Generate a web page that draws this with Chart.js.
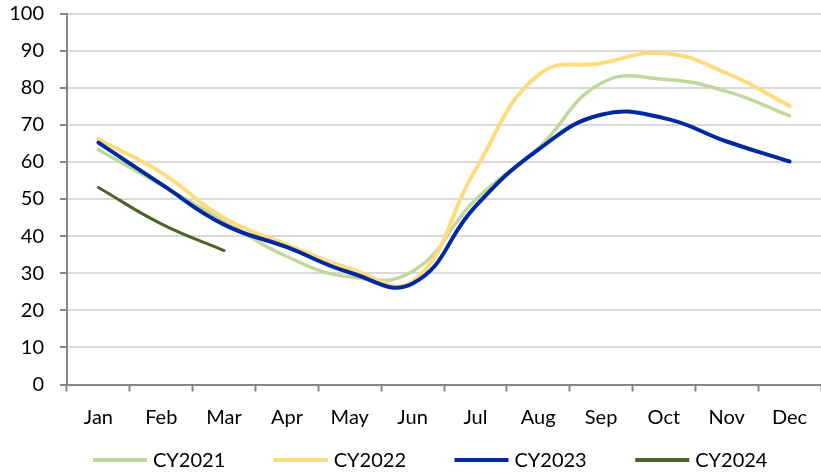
<!DOCTYPE html>
<html>
<head>
<meta charset="utf-8">
<script src="https://cdn.jsdelivr.net/npm/chart.js@4.4.0/dist/chart.umd.min.js"></script>
<style>
  html, body { margin: 0; padding: 0; background: #ffffff; }
  #wrap { width: 821px; height: 472px; position: relative; }
</style>
</head>
<body>
<div id="wrap"><canvas id="c"></canvas></div>
<script>
const months = ['Jan','Feb','Mar','Apr','May','Jun','Jul','Aug','Sep','Oct','Nov','Dec'];
const seriesNames = ['CY2021','CY2022','CY2023','CY2024'];
const cy2021 = [63.3, 53.8, 44.0, 34.5, 29.0, 30.5, 49.8, 63.7, 81.2, 82.3, 79.0, 72.4];
const cy2022 = [66.1, 57.1, 44.9, 37.7, 31.3, 27.8, 57.9, 83.4, 86.6, 89.3, 83.9, 75.1];
const cy2023 = [65.2, 54.0, 43.1, 37.0, 30.2, 27.2, 48.0, 63.3, 72.7, 71.8, 65.5, 60.1];
const cy2024 = [53.1, 43.3, 36.1];
const yTicks = [0,10,20,30,40,50,60,70,80,90,100];

const colors = ['#c4d79b', '#ffdb80', '#0029a0', '#4f6228'];
const widths = [3.5, 4, 4, 3];
const allData = [cy2021, cy2022, cy2023, cy2024];
const FONT = 'Lato, "Open Sans", sans-serif';

const legendPlugin = {
  id: 'customLegend',
  afterDraw(chart) {
    const ctx = chart.ctx;
    ctx.save();
    ctx.font = '20px ' + FONT;
    ctx.textBaseline = 'middle';
    ctx.textAlign = 'left';
    let x = 93;
    const y = 460;
    chart.data.datasets.forEach((ds) => {
      ctx.fillStyle = ds.borderColor;
      ctx.fillRect(x, y - 2, 54, 4);
      ctx.fillStyle = '#000000';
      ctx.fillText(ds.label, x + 60, y + 1);
      x += 54 + 6 + ctx.measureText(ds.label).width + 48.5;
    });
    ctx.restore();
  }
};

const datasets = seriesNames.map((name, i) => ({
  label: name,
  data: allData[i],
  borderColor: colors[i],
  backgroundColor: colors[i],
  borderWidth: widths[i],
  pointRadius: 0,
  pointHoverRadius: 0,
  tension: 0.45,
  fill: false,
  order: 4 - i,
  borderCapStyle: 'round',
  borderJoinStyle: 'round'
}));

new Chart(document.getElementById('c'), {
  type: 'line',
  data: { labels: months, datasets: datasets },
  options: {
    responsive: true,
    maintainAspectRatio: false,
    animation: false,
    layout: { padding: { top: 13.5, left: 0, right: 0, bottom: 42 } },
    plugins: {
      legend: { display: false },
      tooltip: { enabled: false }
    },
    scales: {
      x: {
        type: 'category',
        offset: true,
        afterFit(scale) { scale.paddingLeft = 0; scale.paddingRight = 0; scale.height = 45.5; },
        grid: {
          display: true,
          offset: true,
          drawOnChartArea: false,
          drawTicks: true,
          tickLength: 7,
          tickColor: '#868686',
          tickWidth: 2
        },
        border: { display: true, color: '#868686', width: 2 },
        ticks: {
          color: '#000000',
          font: { size: 20, family: FONT },
          padding: 14.5,
          maxRotation: 0,
          autoSkip: false
        }
      },
      y: {
        min: 0,
        max: 100,
        afterFit(scale) { scale.width = 67; scale.paddingTop = 0; scale.paddingBottom = 0; },
        afterBuildTicks(scale) { scale.ticks = yTicks.map(v => ({ value: v })); },
        grid: {
          color: '#d9d9d9',
          lineWidth: 2,
          drawTicks: true,
          tickLength: 7,
          tickColor: '#868686',
          tickWidth: 2
        },
        border: { display: true, color: '#868686', width: 2 },
        ticks: {
          color: '#000000',
          font: { size: 20, family: FONT },
          padding: 16
        }
      }
    }
  },
  plugins: [legendPlugin]
});
</script>
</body>
</html>
